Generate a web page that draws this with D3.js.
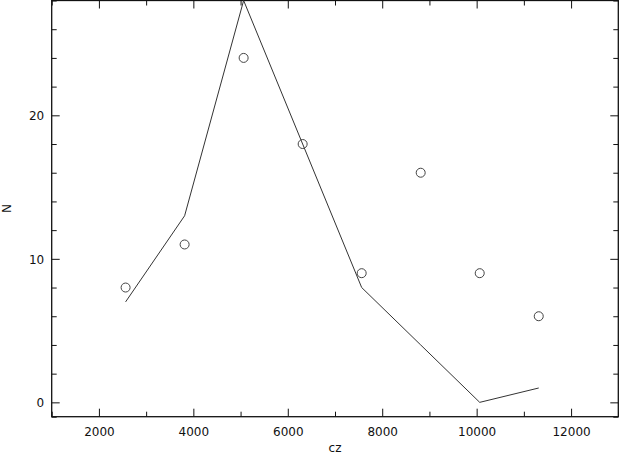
<!DOCTYPE html>
<html>
<head>
<meta charset="utf-8">
<script src="https://cdn.jsdelivr.net/npm/d3@7"></script>
<style>
  html, body { margin: 0; padding: 0; background: #fff; }
  svg { display: block; }
  text { font-family: "DejaVu Sans", sans-serif; font-size: 12px; fill: #111; }
</style>
</head>
<body>
<svg id="chart" width="619" height="453"></svg>
<script>
// Data
const czBins = [2565, 3815, 5065, 6315, 7565, 8815, 10065, 11315];
const observedN = [8, 11, 24, 18, 9, 16, 9, 6];
const modelN = [7, 13, 28, 18, 8, 4, 0, 1];
const xMajorTicks = [2000, 4000, 6000, 8000, 10000, 12000];
const xMinorTicks = [1000, 3000, 5000, 7000, 9000, 11000, 13000];
const yMajorTicks = [0, 10, 20];
const yMinorTicks = [-1, 2, 4, 6, 8, 12, 14, 16, 18, 22, 24, 26, 28];
const xLabel = "cz";
const yLabel = "N";

(function () {
const svg = d3.select("#chart");
const mLeft = 51.7, mRight = 618.3, mTop = 0.5, mBottom = 416.7;

const x = d3.scaleLinear().domain([1000, 13000]).range([mLeft, mRight]);
const y = d3.scaleLinear().domain([-1, 28]).range([mBottom, mTop]);

const majorLen = 8, minorLen = 5;

function styleAxis(g) {
  g.select(".domain").remove();
  g.selectAll(".tick line").attr("stroke", "#111").attr("stroke-width", 1);
  g.selectAll(".tick text").style("font-family", '"DejaVu Sans", sans-serif').style("font-size", "12px").attr("fill", "#111");
}

// Bottom axis: major ticks with labels
svg.append("g").attr("transform", `translate(0,${mBottom})`)
  .call(d3.axisBottom(x).tickValues(xMajorTicks).tickSizeInner(-majorLen).tickSizeOuter(0).tickPadding(0).tickFormat(d3.format("d")))
  .call(styleAxis)
  .call(g => g.selectAll(".tick text").attr("y", 19).attr("dy", 0));
svg.append("g").attr("transform", `translate(0,${mBottom})`)
  .call(d3.axisBottom(x).tickValues(xMinorTicks).tickSizeInner(-minorLen).tickSizeOuter(0).tickFormat(""))
  .call(styleAxis);
// Top axis
svg.append("g").attr("transform", `translate(0,${mTop})`)
  .call(d3.axisTop(x).tickValues(xMajorTicks).tickSizeInner(-majorLen).tickSizeOuter(0).tickFormat(""))
  .call(styleAxis);
svg.append("g").attr("transform", `translate(0,${mTop})`)
  .call(d3.axisTop(x).tickValues(xMinorTicks).tickSizeInner(-minorLen).tickSizeOuter(0).tickFormat(""))
  .call(styleAxis);
// Left axis
svg.append("g").attr("transform", `translate(${mLeft},0)`)
  .call(d3.axisLeft(y).tickValues(yMajorTicks).tickSizeInner(-majorLen).tickSizeOuter(0).tickPadding(0).tickFormat(d3.format("d")))
  .call(styleAxis)
  .call(g => g.selectAll(".tick text").attr("x", -7.5).attr("dy", "0.36em"));
svg.append("g").attr("transform", `translate(${mLeft},0)`)
  .call(d3.axisLeft(y).tickValues(yMinorTicks).tickSizeInner(-minorLen).tickSizeOuter(0).tickFormat(""))
  .call(styleAxis);
// Right axis
svg.append("g").attr("transform", `translate(${mRight},0)`)
  .call(d3.axisRight(y).tickValues(yMajorTicks).tickSizeInner(-majorLen).tickSizeOuter(0).tickFormat(""))
  .call(styleAxis);
svg.append("g").attr("transform", `translate(${mRight},0)`)
  .call(d3.axisRight(y).tickValues(yMinorTicks).tickSizeInner(-minorLen).tickSizeOuter(0).tickFormat(""))
  .call(styleAxis);

// Frame
svg.append("rect")
  .attr("x", mLeft).attr("y", mTop)
  .attr("width", mRight - mLeft).attr("height", mBottom - mTop)
  .attr("fill", "none").attr("stroke", "#111").attr("stroke-width", 1.3);

// Clip
svg.append("clipPath").attr("id", "clip")
  .append("rect").attr("x", mLeft).attr("y", 0).attr("width", mRight - mLeft).attr("height", mBottom);

const plot = svg.append("g").attr("clip-path", "url(#clip)");

// Model line
const lineData = czBins.map((c, i) => [c, modelN[i]]);
plot.append("path")
  .datum(lineData)
  .attr("fill", "none")
  .attr("stroke", "#333")
  .attr("stroke-width", 1)
  .attr("d", d3.line().x(d => x(d[0])).y(d => y(d[1])));

// Observed points
plot.selectAll("circle.obs")
  .data(czBins.map((c, i) => [c, observedN[i]]))
  .join("circle")
  .attr("class", "obs")
  .attr("cx", d => x(d[0]))
  .attr("cy", d => y(d[1]))
  .attr("r", 4.5)
  .attr("fill", "none")
  .attr("stroke", "#444")
  .attr("stroke-width", 1);

// Axis labels
svg.append("text")
  .attr("x", (mLeft + mRight) / 2).attr("y", 451.5)
  .attr("text-anchor", "middle")
  .text(xLabel);
svg.append("text")
  .attr("transform", `translate(10.5,${(mTop + mBottom) / 2}) rotate(-90)`)
  .attr("text-anchor", "middle")
  .text(yLabel);
})();
</script>
</body>
</html>
